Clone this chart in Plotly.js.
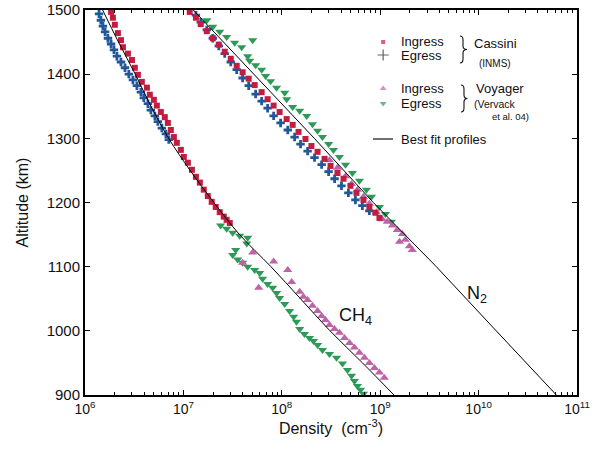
<!DOCTYPE html>
<html><head><meta charset="utf-8">
<script src="https://cdn.plot.ly/plotly-3.0.1.min.js"></script>
<style>html,body{margin:0;padding:0;background:#fff}#chart{width:593px;height:452px}</style>
</head><body><div id="chart"></div>
<script>
// ---- CH4, Cassini INMS ingress ----
const ch4CassIngDen = [1.84e6,1.92e6,2.01e6,2.16e6,2.32e6,2.43e6,2.73e6,3.00e6,3.21e6,3.45e6,3.78e6,4.26e6,4.56e6,5.01e6,5.37e6,5.90e6,6.47e6,6.95e6,7.45e6,8.00e6,8.57e6,9.42e6,1.01e7,1.11e7,1.22e7,1.34e7,1.47e7,1.61e7,1.77e7,1.94e7,2.13e7,2.34e7,2.57e7,2.75e7,2.96e7];
const ch4CassIngAlt = [1497,1488,1477,1464,1453,1442,1432,1422,1410,1399,1388,1379,1368,1360,1351,1341,1333,1324,1313,1302,1293,1282,1271,1262,1251,1240,1231,1220,1210,1201,1193,1185,1178,1173,1168];
// ---- CH4, Cassini INMS egress ----
const ch4CassEgrDen = [1.39e6,1.45e6,1.52e6,1.60e6,1.71e6,1.84e6,1.97e6,2.11e6,2.32e6,2.55e6,2.79e6,3.07e6,3.37e6,3.70e6,3.96e6,4.36e6,4.67e6,5.13e6,5.50e6,6.04e6,6.64e6,7.11e6];
const ch4CassEgrAlt = [1494,1484,1475,1466,1456,1447,1438,1428,1419,1410,1400,1391,1382,1372,1363,1354,1344,1335,1326,1316,1307,1298];
// ---- N2, Cassini INMS ingress ----
const n2CassIngDen = [1.16e7,1.34e7,1.50e7,1.73e7,1.99e7,2.29e7,2.63e7,3.03e7,3.48e7,4.00e7,4.61e7,5.30e7,6.24e7,7.18e7,8.26e7,9.50e7,1.12e8,1.29e8,1.48e8,1.74e8,2.00e8,2.31e8,2.72e8,3.13e8,3.68e8,4.24e8,4.99e8,5.74e8,6.76e8,7.76e8,8.94e8,9.82e8];
const n2CassIngAlt = [1497,1488,1478,1467,1456,1446,1435,1424,1413,1403,1393,1383,1372,1361,1351,1341,1330,1321,1310,1299,1288,1279,1268,1257,1246,1237,1226,1215,1204,1193,1184,1176];
// ---- N2, Cassini INMS egress ----
const n2CassEgrDen = [1.34e7,1.50e7,1.73e7,1.99e7,2.29e7,2.63e7,3.03e7,3.48e7,4.00e7,4.61e7,5.42e7,6.24e7,7.18e7,8.26e7,9.72e7,1.15e8,1.35e8,1.55e8,1.83e8,2.15e8,2.54e8,2.99e8,3.44e8,4.04e8,4.75e8,5.60e8,6.59e8,7.76e8];
const n2CassEgrAlt = [1492,1481,1469,1456,1444,1432,1419,1407,1394,1382,1369,1358,1347,1335,1324,1313,1302,1291,1280,1270,1259,1248,1237,1226,1215,1204,1195,1187];
// ---- N2, Voyager ingress (Vervack et al. 04) ----
const n2VoyIngDen = [3.05e8,3.68e8,4.44e8,5.10e8,5.87e8,6.76e8,7.76e8,9.14e8,1.05e9,1.18e9,1.33e9,1.49e9,1.68e9,1.80e9,1.98e9,2.12e9,1.57e9];
const n2VoyIngAlt = [1266,1254,1241,1229,1220,1209,1198,1185,1174,1170,1164,1157,1151,1142,1132,1126,1139];
// ---- N2, Voyager egress ----
const n2VoyEgrDen = [1.73e7,1.99e7,2.34e7,2.75e7,3.32e7,3.91e7,5.06e7,4.50e7,4.71e7,5.42e7,6.24e7,6.85e7,7.69e7,8.85e7,1.07e8,1.12e8,1.29e8,1.52e8,1.79e8,2.05e8,2.31e8,2.59e8,2.99e8,3.35e8,3.85e8,4.44e8,5.22e8,6.15e8,7.24e8,8.15e8,9.82e8,1.13e9,1.30e9];
const n2VoyEgrAlt = [1484,1474,1466,1458,1449,1442,1453,1428,1421,1414,1407,1397,1389,1379,1371,1361,1349,1343,1335,1322,1312,1302,1291,1282,1271,1259,1246,1234,1220,1209,1193,1182,1170];
// ---- CH4, Voyager ingress ----
const ch4VoyIngDen = [5.06e7,4.00e7,5.82e7,8.26e7,1.15e8,1.26e8,1.52e8,1.66e8,1.83e8,2.05e8,2.31e8,2.54e8,2.78e8,3.05e8,3.43e8,3.85e8,4.34e8,4.88e8,5.47e8,6.15e8,6.92e8,7.76e8,8.73e8,9.82e8,1.10e9];
const ch4VoyIngAlt = [1122,1106,1067,1108,1095,1076,1061,1053,1048,1039,1031,1023,1017,1009,1003,997,989,981,974,966,958,950,942,935,927];
// ---- CH4, Voyager egress ----
const ch4VoyEgrDen = [2.39e7,2.75e7,3.17e7,3.73e7,4.50e7,4.40e7,3.40e7,3.17e7,3.56e7,4.00e7,4.50e7,5.30e7,5.96e7,6.38e7,7.18e7,8.07e7,8.85e7,9.50e7,1.07e8,1.20e8,1.32e8,1.41e8,1.52e8,1.70e8,1.91e8,2.10e8,2.31e8,2.59e8,3.05e8,3.60e8,4.14e8,4.65e8,5.11e8,5.47e8,5.87e8,6.30e8,6.76e8];
const ch4VoyEgrAlt = [1164,1159,1153,1148,1145,1136,1126,1118,1111,1106,1100,1095,1090,1081,1073,1067,1059,1051,1042,1031,1022,1014,1003,995,989,984,978,970,964,958,949,939,930,922,914,908,902];
// ---- best fit profiles ----
const ch4FitAlt = [1500,1450,1400,1350,1300,1250,1200,1150,1100,1050,1000,950,900];
const ch4FitDen = [1.51e6,2.19e6,3.24e6,4.68e6,7.08e6,1.17e7,2.04e7,3.72e7,7.76e7,1.55e8,3.09e8,6.61e8,1.38e9];
const n2FitAlt = [1500,1400,1300,1200,1100,1000,900];
const n2FitDen = [1.26e7,5.25e7,2.14e8,8.51e8,3.72e9,1.51e10,6.17e10];
// ---- axis ticks ----
const xTickVals = [1e6,1e7,1e8,1e9,1e10,1e11];
const xTickText = ['10<sup>6</sup>','10<sup>7</sup>','10<sup>8</sup>','10<sup>9</sup>','10<sup>10</sup>','10<sup>11</sup>'];
const yTickVals = [900,1000,1100,1200,1300,1400,1500];

const cRed = '#c21d40', cBlue = '#22589a', cPink = '#c062a6', cGreen = '#2e9a58';
const FONT = 'Liberation Sans, Arial, Helvetica, sans-serif';

function pts(x, y, sym, col, size) {
  return {x: x, y: y, type: 'scatter', mode: 'markers', showlegend: false, hoverinfo: 'skip',
    marker: {symbol: sym, color: col, size: size, line: {width: 0}}};
}
const traces = [
  pts(n2VoyEgrDen, n2VoyEgrAlt, 'triangle-down', cGreen, 8),
  pts(n2VoyIngDen, n2VoyIngAlt, 'triangle-up', cPink, 8),
  pts(n2CassEgrDen, n2CassEgrAlt, 'cross', cBlue, 7),
  pts(n2CassIngDen, n2CassIngAlt, 'square', cRed, 6),
  pts(ch4VoyEgrDen, ch4VoyEgrAlt, 'triangle-down', cGreen, 8),
  pts(ch4VoyIngDen, ch4VoyIngAlt, 'triangle-up', cPink, 8),
  pts(ch4CassEgrDen, ch4CassEgrAlt, 'cross', cBlue, 7),
  pts(ch4CassIngDen, ch4CassIngAlt, 'square', cRed, 6),
  {x: n2FitDen, y: n2FitAlt, type: 'scatter', mode: 'lines', showlegend: false, hoverinfo: 'skip',
   line: {color: '#000', width: 1}},
  {x: ch4FitDen, y: ch4FitAlt, type: 'scatter', mode: 'lines', line: {color: '#000', width: 1, shape: 'spline'},
   showlegend: false, hoverinfo: 'skip'},
  // legend symbols on an overlay axis spanning the plot area
  {x: [0.606, 0.606, 0.606, 0.606], y: [0.9169, 0.8831, 0.7961, 0.7571], xaxis: 'x2', yaxis: 'y2',
   type: 'scatter', mode: 'markers', showlegend: false, hoverinfo: 'skip',
   marker: {symbol: ['square', 'cross-thin', 'triangle-up', 'triangle-down'],
            color: [cRed, '#222', cPink, cGreen], size: [4, 8, 6, 6],
            line: {width: [0, 1.2, 0, 0], color: '#222'}}}
];

function txt(x, y, t, size, anchor) {
  return {xref: 'paper', yref: 'paper', x: x, y: y, text: t, showarrow: false, borderpad: 0,
    xanchor: anchor || 'left', yanchor: 'middle', font: {family: FONT, size: size, color: '#111'}};
}
const annotations = [
  txt(0.640, 0.9169, 'Ingress', 13), txt(0.640, 0.8831, 'Egress', 13),
  txt(0.7886, 0.9117, 'Cassini', 13), txt(0.7988, 0.8623, '(INMS)', 10),
  txt(0.640, 0.7961, 'Ingress', 13), txt(0.640, 0.7571, 'Egress', 13),
  txt(0.7927, 0.7974, 'Voyager', 13), txt(0.7886, 0.7558, '(Vervack', 10.5),
  txt(0.8252, 0.7221, 'et al. 04)', 9.5),
  txt(0.6402, 0.6649, 'Best fit profiles', 13),
  txt(0.549, 0.203, 'CH<sub>4</sub>', 18, 'center'),
  txt(0.797, 0.262, 'N<sub>2</sub>', 18, 'center')
];

const braceLine = {color: '#111', width: 1.1};
const layout = {
  width: 593, height: 452,
  margin: {l: 85, r: 16, t: 10, b: 57},
  paper_bgcolor: '#fff', plot_bgcolor: '#fff',
  font: {family: FONT, color: '#111', size: 13},
  xaxis: {type: 'log', range: [6, 11], tickvals: xTickVals, ticktext: xTickText,
    ticks: 'inside', ticklen: 5, tickwidth: 1, tickcolor: '#000',
    showline: true, linewidth: 2, linecolor: '#000', mirror: 'ticks',
    showgrid: false, zeroline: false, tickfont: {size: 14},
    minor: {dtick: 'D1', ticks: 'inside', ticklen: 3, tickcolor: '#000', showgrid: false},
    title: {text: 'Density  (cm<sup>-3</sup>)', font: {size: 16}, standoff: 3}},
  yaxis: {range: [900, 1500], tickvals: yTickVals, ticks: 'inside', ticklen: 5, tickwidth: 1,
    tickcolor: '#000', showline: true, linewidth: 2, linecolor: '#000', mirror: 'ticks',
    showgrid: false, zeroline: false, tickfont: {size: 15},
    title: {text: 'Altitude (km)', font: {size: 16}, standoff: 14}},
  xaxis2: {overlaying: 'x', range: [0, 1], visible: false, anchor: 'y2'},
  yaxis2: {overlaying: 'y', range: [0, 1], visible: false, anchor: 'x2'},
  shapes: [
    {type: 'line', xref: 'paper', yref: 'paper', x0: 0.5854, x1: 0.6260, y0: 0.6649, y1: 0.6649,
     line: {color: '#111', width: 1.2}},
    {type: 'path', xref: 'paper', yref: 'paper', line: braceLine,
     path: 'M 0.7622 0.9325 Q 0.7683 0.9325 0.7683 0.9221 L 0.7683 0.9065 Q 0.7683 0.8974 0.7764 0.8974 Q 0.7683 0.8974 0.7683 0.8883 L 0.7683 0.8727 Q 0.7683 0.8623 0.7622 0.8623'},
    {type: 'path', xref: 'paper', yref: 'paper', line: braceLine,
     path: 'M 0.7642 0.8052 Q 0.7703 0.8052 0.7703 0.7948 L 0.7703 0.7792 Q 0.7703 0.7701 0.7774 0.7701 Q 0.7703 0.7701 0.7703 0.7610 L 0.7703 0.7455 Q 0.7703 0.7351 0.7642 0.7351'}
  ],
  annotations: annotations
};
Plotly.newPlot('chart', traces, layout, {staticPlot: true, displayModeBar: false});
</script></body></html>
